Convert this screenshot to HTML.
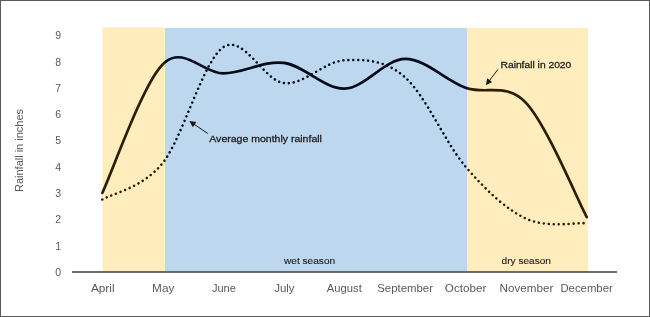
<!DOCTYPE html>
<html><head><meta charset="utf-8"><style>
html,body{margin:0;padding:0;background:#fff;}
body{width:650px;height:317px;overflow:hidden;}
svg{display:block;font-family:"Liberation Sans", sans-serif;will-change:transform;}
</style></head><body>
<svg width="650" height="317" viewBox="0 0 650 317">
<rect x="0.5" y="0.5" width="649" height="316" fill="#fff" stroke="#595959" stroke-width="1"/>
<rect x="102.5" y="27.3" width="62.5" height="244" fill="#FFEDBD"/>
<rect x="165" y="28" width="302" height="243.3" fill="#BDD7EE"/>
<rect x="467" y="28" width="121" height="243.3" fill="#FFEDBD"/>
<line x1="72" y1="272" x2="617" y2="272" stroke="#383838" stroke-width="1.6"/>
<text x="61.2" y="275.80" text-anchor="end" font-size="10.5" fill="#595959">0</text>
<text x="61.2" y="249.52" text-anchor="end" font-size="10.5" fill="#595959">1</text>
<text x="61.2" y="223.24" text-anchor="end" font-size="10.5" fill="#595959">2</text>
<text x="61.2" y="196.96" text-anchor="end" font-size="10.5" fill="#595959">3</text>
<text x="61.2" y="170.68" text-anchor="end" font-size="10.5" fill="#595959">4</text>
<text x="61.2" y="144.40" text-anchor="end" font-size="10.5" fill="#595959">5</text>
<text x="61.2" y="118.12" text-anchor="end" font-size="10.5" fill="#595959">6</text>
<text x="61.2" y="91.84" text-anchor="end" font-size="10.5" fill="#595959">7</text>
<text x="61.2" y="65.56" text-anchor="end" font-size="10.5" fill="#595959">8</text>
<text x="61.2" y="39.28" text-anchor="end" font-size="10.5" fill="#595959">9</text>
<text x="90.90" y="292.0" font-size="10.5" fill="#595959" textLength="23.70" lengthAdjust="spacingAndGlyphs">April</text>
<text x="152.10" y="292.0" font-size="10.5" fill="#595959" textLength="22.20" lengthAdjust="spacingAndGlyphs">May</text>
<text x="211.90" y="292.0" font-size="10.5" fill="#595959" textLength="24.00" lengthAdjust="spacingAndGlyphs">June</text>
<text x="274.20" y="292.0" font-size="10.5" fill="#595959" textLength="20.40" lengthAdjust="spacingAndGlyphs">July</text>
<text x="326.80" y="292.0" font-size="10.5" fill="#595959" textLength="35.10" lengthAdjust="spacingAndGlyphs">August</text>
<text x="377.20" y="292.0" font-size="10.5" fill="#595959" textLength="55.80" lengthAdjust="spacingAndGlyphs">September</text>
<text x="444.80" y="292.0" font-size="10.5" fill="#595959" textLength="41.60" lengthAdjust="spacingAndGlyphs">October</text>
<text x="499.60" y="292.0" font-size="10.5" fill="#595959" textLength="53.80" lengthAdjust="spacingAndGlyphs">November</text>
<text x="560.40" y="292.0" font-size="10.5" fill="#595959" textLength="52.40" lengthAdjust="spacingAndGlyphs">December</text>
<text transform="translate(22.6,150.5) rotate(-90)" text-anchor="middle" font-size="10.5" fill="#595959" textLength="83" lengthAdjust="spacingAndGlyphs">Rainfall in inches</text>
<text x="284.0" y="264.4" font-size="9.7" fill="#222" stroke="#222" stroke-width="0.12" textLength="51.2" lengthAdjust="spacingAndGlyphs">wet season</text>
<text x="501.6" y="263.9" font-size="9.7" fill="#222" stroke="#222" stroke-width="0.12" textLength="49.3" lengthAdjust="spacingAndGlyphs">dry season</text>
<defs><clipPath id="cy"><rect x="0" y="0" width="165" height="317"/><rect x="467" y="0" width="183" height="317"/></clipPath><clipPath id="cb"><rect x="165" y="0" width="302" height="317"/></clipPath></defs>
<g clip-path="url(#cy)">
<path d="M102.30,199.53 C112.39,193.40 142.67,188.14 162.86,162.74 C183.05,137.33 203.23,60.38 223.42,47.11 C243.61,33.83 263.79,80.92 283.98,83.11 C304.17,85.30 324.35,61.21 344.54,60.25 C364.73,59.28 384.91,59.59 405.10,77.33 C425.29,95.07 445.47,143.12 465.66,166.68 C485.85,190.24 506.03,209.30 526.22,218.71 C546.41,228.13 576.69,222.44 586.78,223.18" fill="none" stroke="#2a1f05" stroke-width="2.55" stroke-dasharray="0.01 4.95" stroke-linecap="round"/>
<path d="M102.30,192.96 C112.39,171.50 142.67,84.12 162.86,64.19 C183.05,44.26 203.23,73.60 223.42,73.39 C243.61,73.17 263.79,60.33 283.98,62.87 C304.17,65.41 324.35,89.29 344.54,88.63 C364.73,87.97 384.91,59.06 405.10,58.93 C425.29,58.80 445.47,80.48 465.66,87.84 C485.85,95.20 506.03,81.53 526.22,103.08 C546.41,124.63 576.69,198.13 586.78,217.14" fill="none" stroke="#2a1f05" stroke-width="2.70" stroke-linecap="round"/>
</g>
<g clip-path="url(#cb)">
<path d="M102.30,199.53 C112.39,193.40 142.67,188.14 162.86,162.74 C183.05,137.33 203.23,60.38 223.42,47.11 C243.61,33.83 263.79,80.92 283.98,83.11 C304.17,85.30 324.35,61.21 344.54,60.25 C364.73,59.28 384.91,59.59 405.10,77.33 C425.29,95.07 445.47,143.12 465.66,166.68 C485.85,190.24 506.03,209.30 526.22,218.71 C546.41,228.13 576.69,222.44 586.78,223.18" fill="none" stroke="#000a18" stroke-width="2.55" stroke-dasharray="0.01 4.95" stroke-linecap="round"/>
<path d="M102.30,192.96 C112.39,171.50 142.67,84.12 162.86,64.19 C183.05,44.26 203.23,73.60 223.42,73.39 C243.61,73.17 263.79,60.33 283.98,62.87 C304.17,65.41 324.35,89.29 344.54,88.63 C364.73,87.97 384.91,59.06 405.10,58.93 C425.29,58.80 445.47,80.48 465.66,87.84 C485.85,95.20 506.03,81.53 526.22,103.08 C546.41,124.63 576.69,198.13 586.78,217.14" fill="none" stroke="#000a18" stroke-width="2.70" stroke-linecap="round"/>
</g>
<text x="209.3" y="141.5" font-size="9.8" fill="#1e1e1e" stroke="#1e1e1e" stroke-width="0.3" textLength="112.6" lengthAdjust="spacingAndGlyphs">Average monthly rainfall</text>
<line x1="207.80" y1="133.50" x2="193.77" y2="124.02" stroke="#1a1a1a" stroke-width="1.0"/>
<polygon points="189.30,121.00 196.34,122.01 192.87,127.15" fill="#1a1a1a"/>
<text x="500.5" y="67.6" font-size="9.8" fill="#1e1e1e" stroke="#1e1e1e" stroke-width="0.3" textLength="70.8" lengthAdjust="spacingAndGlyphs">Rainfall in 2020</text>
<line x1="497.90" y1="69.50" x2="489.08" y2="81.01" stroke="#1a1a1a" stroke-width="1.0"/>
<polygon points="485.80,85.30 487.23,78.33 492.15,82.10" fill="#1a1a1a"/>
</svg></body></html>
